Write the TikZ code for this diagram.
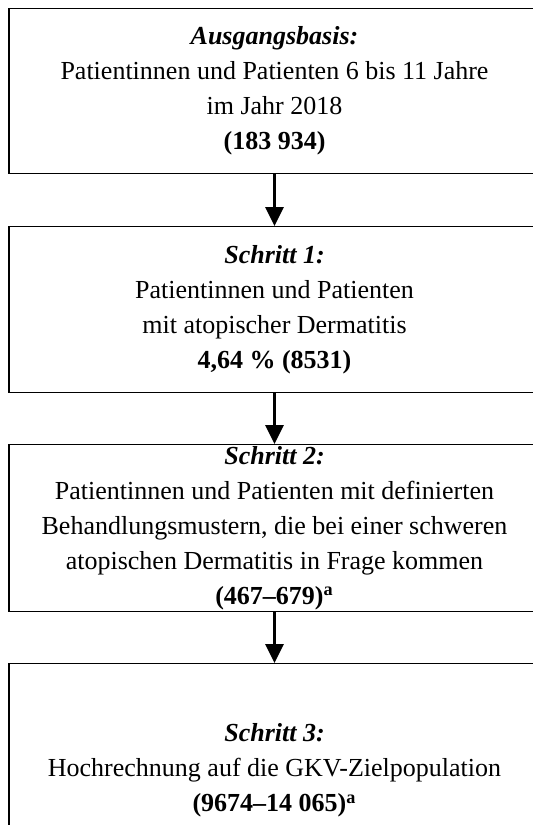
\documentclass[tikz,border=0pt]{standalone}
\usepackage{fontspec}
\setmainfont{Liberation Serif}
\usetikzlibrary{arrows.meta}
\tikzset{
  stepbox/.style={draw, line width=0.6pt, anchor=north, minimum width=265.5pt,
    inner xsep=0pt, inner ysep=0.5pt, align=center,
    font=\fontsize{13}{17.5}\selectfont},
  flow/.style={line width=1.5pt, -{Triangle[width=9pt,length=9.5pt]}}
}
\begin{document}
\begin{tikzpicture}[x=0.5pt,y=-0.5pt]
  \useasboundingbox (0,0) rectangle (533,825);
  \clip (0,0) rectangle (533,825);
  \node[stepbox, minimum height=82.5pt] (basis) at (274.5,8)
    {\textbf{\textit{Ausgangsbasis:}}\\ Patientinnen und Patienten 6 bis 11 Jahre\\ im Jahr 2018\\ \textbf{(183~934)}};
  \node[stepbox, minimum height=83pt] (schritt1) at (274.5,226)
    {\textbf{\textit{Schritt 1:}}\\ Patientinnen und Patienten\\ mit atopischer Dermatitis\\ \textbf{4,64~\% (8531)}};
  \node[stepbox, minimum height=83.5pt] (schritt2) at (274.5,444)
    {\textbf{\textit{Schritt 2:}}\\ Patientinnen und Patienten mit definierten\\ Behandlungsmustern, die bei einer schweren\\ atopischen Dermatitis in Frage kommen\\ \textbf{(467--679)\textsuperscript{a}}};
  \node[stepbox, minimum height=107pt] (schritt3) at (274.5,663)
    {\textbf{\textit{Schritt 3:}}\\ Hochrechnung auf die GKV-Zielpopulation\\ \textbf{(9674--14~065)\textsuperscript{a}}};
  \draw[flow] (basis) -- (schritt1);
  \draw[flow] (schritt1) -- (schritt2);
  \draw[flow] (schritt2) -- (schritt3);
\end{tikzpicture}
\end{document}
